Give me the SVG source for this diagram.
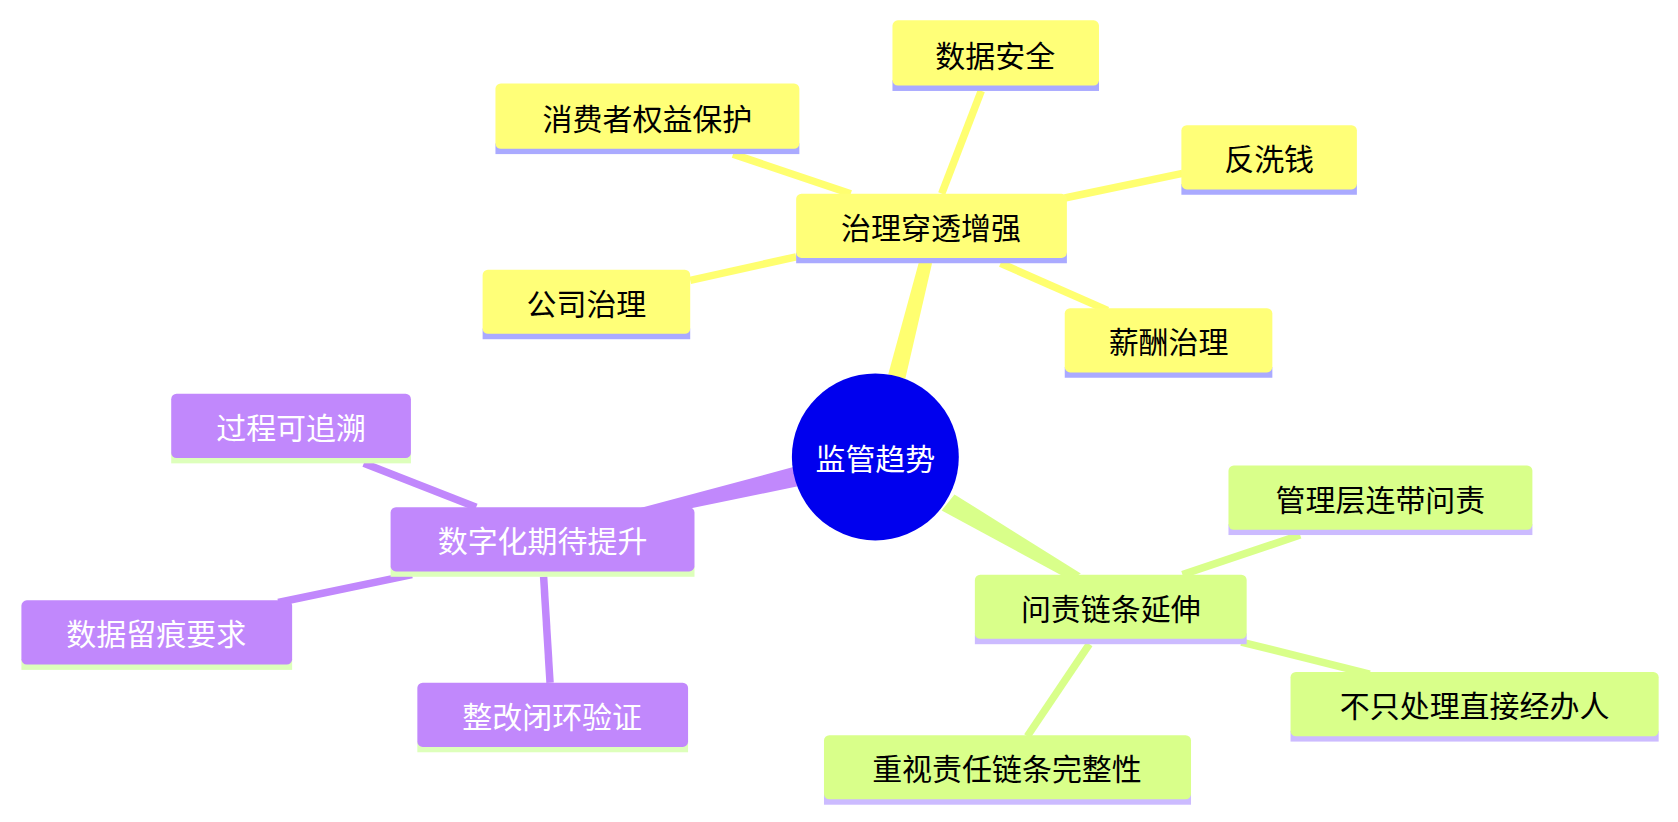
<svg xmlns="http://www.w3.org/2000/svg" width="1678" height="822" viewBox="0 0 1678 822">
<style>
text{font-family:"Noto Sans CJK SC","Noto Sans",sans-serif;font-size:28px;text-anchor:middle;dominant-baseline:central}
.y rect.b{fill:#ffff78}.y rect.u{fill:#aaaaff}
.p rect.b{fill:#c188fc}.p rect.u{fill:#ddffbb}
.g rect.b{fill:#d9ff8a}.g rect.u{fill:#ccbbff}
.p text{fill:#fff}.y text,.g text{fill:#000}
.ly{stroke:#ffff70;stroke-width:7}.lp{stroke:#c188fc;stroke-width:7}.lg{stroke:#d9ff8a;stroke-width:7}
</style>
<rect width="1678" height="822" fill="#fff"/>
<g transform="scale(1.0701)">
<g id="connectors">
<polygon points="830,350 846,354 871,246 859,244" fill="#ffff70"/>
<polygon points="743,436 748,454 597,485 594,476" fill="#c188fc"/>
<polygon points="880,477 892,462 1010,536 1000,542" fill="#d9ff8a"/>
<line class="ly" x1="880" y1="181" x2="917" y2="85"/>
<line class="ly" x1="795" y1="181" x2="685" y2="144"/>
<line class="ly" x1="995" y1="185" x2="1105" y2="162"/>
<line class="ly" x1="744" y1="240" x2="645" y2="262"/>
<line class="ly" x1="935" y1="246" x2="1035" y2="290"/>
<line class="lp" x1="445" y1="474" x2="340" y2="433"/>
<line class="lp" x1="385" y1="537" x2="260" y2="563"/>
<line class="lp" x1="508" y1="539" x2="514" y2="638"/>
<line class="lg" x1="1105" y1="537" x2="1215" y2="500"/>
<line class="lg" x1="1160" y1="600" x2="1280" y2="630"/>
<line class="lg" x1="1018" y1="602" x2="960" y2="688"/>
</g>
<g id="root"><circle cx="818" cy="427" r="78" fill="#0000ee"/><text x="818" y="427" fill="#fff">监管趋势</text></g>
<g id="n1" class="y"><rect class="u" x="744" y="236" width="253" height="10"/><rect class="b" x="744" y="181" width="253" height="60" rx="5"/><text x="870" y="211">治理穿透增强</text></g>
<g id="n2" class="y"><rect class="u" x="834" y="75" width="193" height="10"/><rect class="b" x="834" y="19" width="193" height="61" rx="5"/><text x="930" y="50">数据安全</text></g>
<g id="n3" class="y"><rect class="u" x="463" y="134" width="284" height="10"/><rect class="b" x="463" y="78" width="284" height="61" rx="5"/><text x="605" y="109">消费者权益保护</text></g>
<g id="n4" class="y"><rect class="u" x="1104" y="172" width="164" height="10"/><rect class="b" x="1104" y="117" width="164" height="60" rx="5"/><text x="1186" y="147">反洗钱</text></g>
<g id="n5" class="y"><rect class="u" x="451" y="307" width="194" height="10"/><rect class="b" x="451" y="252" width="194" height="60" rx="5"/><text x="548" y="282">公司治理</text></g>
<g id="n6" class="y"><rect class="u" x="995" y="343" width="194" height="10"/><rect class="b" x="995" y="288" width="194" height="60" rx="5"/><text x="1092" y="318">薪酬治理</text></g>
<g id="n7" class="p"><rect class="u" x="365" y="529" width="284" height="10"/><rect class="b" x="365" y="474" width="284" height="60" rx="5"/><text x="507" y="504">数字化期待提升</text></g>
<g id="n8" class="p"><rect class="u" x="160" y="423" width="224" height="10"/><rect class="b" x="160" y="368" width="224" height="60" rx="5"/><text x="272" y="398">过程可追溯</text></g>
<g id="n9" class="p"><rect class="u" x="20" y="616" width="253" height="10"/><rect class="b" x="20" y="561" width="253" height="60" rx="5"/><text x="146" y="591">数据留痕要求</text></g>
<g id="n10" class="p"><rect class="u" x="390" y="693" width="253" height="10"/><rect class="b" x="390" y="638" width="253" height="60" rx="5"/><text x="516" y="668">整改闭环验证</text></g>
<g id="n11" class="g"><rect class="u" x="911" y="592" width="254" height="10"/><rect class="b" x="911" y="537" width="254" height="60" rx="5"/><text x="1038" y="567">问责链条延伸</text></g>
<g id="n12" class="g"><rect class="u" x="1148" y="490" width="284" height="10"/><rect class="b" x="1148" y="435" width="284" height="60" rx="5"/><text x="1290" y="465">管理层连带问责</text></g>
<g id="n13" class="g"><rect class="u" x="1206" y="683" width="344" height="10"/><rect class="b" x="1206" y="628" width="344" height="60" rx="5"/><text x="1378" y="658">不只处理直接经办人</text></g>
<g id="n14" class="g"><rect class="u" x="770" y="742" width="343" height="10"/><rect class="b" x="770" y="687" width="343" height="60" rx="5"/><text x="941" y="717">重视责任链条完整性</text></g>
</g>
</svg>
